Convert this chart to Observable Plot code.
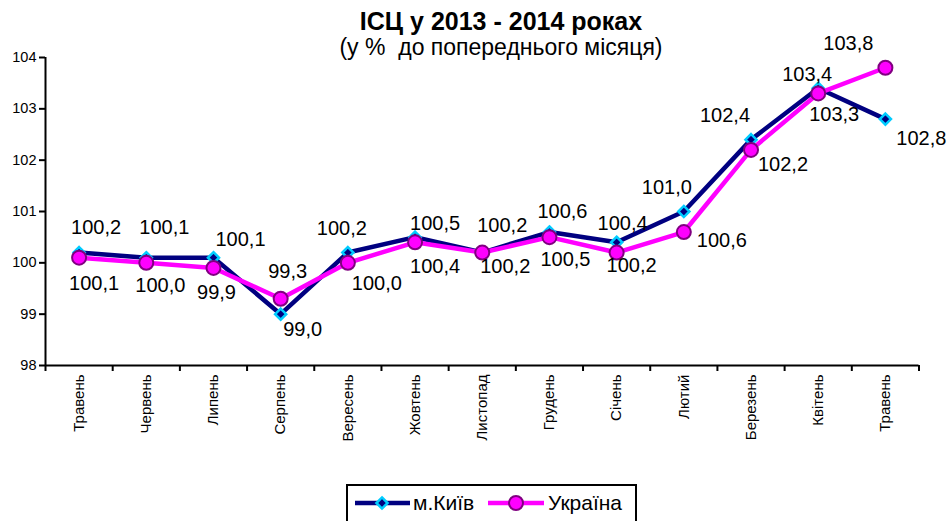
<!DOCTYPE html>
<html><head><meta charset="utf-8">
<script src="https://cdn.jsdelivr.net/npm/d3@7"></script>
<script src="https://cdn.jsdelivr.net/npm/@observablehq/plot@0.6"></script>
<style>
body{margin:0;background:#fff;font-family:"Liberation Sans",Arial,sans-serif;}
#wrap{position:relative;width:948px;height:521px;overflow:hidden;background:#fff;}
#chart{position:absolute;left:0;top:0;}
#title{position:absolute;left:0;width:1002px;top:9px;text-align:center;font-weight:bold;font-size:25px;color:#000;white-space:pre;line-height:25px;}
#subtitle{position:absolute;left:0;width:1002px;top:36px;text-align:center;font-size:23px;color:#000;white-space:pre;line-height:23px;}
#legend{position:absolute;left:346px;top:484px;width:287px;height:50px;border:2px solid #000;background:#fff;}
</style>
</head><body>
<div id="wrap">
  <div id="chart"></div>
  <div id="title"></div>
  <div id="subtitle"></div>
  <div id="legend"></div>
</div>
<script>
const titleText = "ІСЦ у 2013 - 2014 роках";
const subtitleText = "(у %  до попереднього місяця)";
const months = ["Травень","Червень","Липень","Серпень","Вересень","Жовтень","Листопад","Грудень","Січень","Лютий","Березень","Квітень","Травень"];
const kyiv = [100.2,100.1,100.1,99.0,100.2,100.5,100.2,100.6,100.4,101.0,102.4,103.4,102.8];
const ukraine = [100.1,100.0,99.9,99.3,100.0,100.4,100.2,100.5,100.2,100.6,102.2,103.3,103.8];
const yTicks = [98,99,100,101,102,103,104];
const seriesNames = ["м.Київ","Україна"];

// label placement (layout only)
const kyivLabelOffset = [[17,-25],[18,-30],[27,-18],[22,15],[-6,-24],[20,-14],[20,-27],[13,-20],[6,-19],[-17,-24],[-26,-24],[-11,-14],[36,19]];
const ukraineLabelOffset = [[15,26],[14,23],[3,25],[7,-27],[29,21],[20,24],[23,14],[16,22],[15,13],[38,9],[32,15],[16,21],[-37,-24]];

const NAVY = "#000080", CYAN = "#00ccff", MAG = "#ff00ff", PURP = "#800080";
const font = '"Liberation Sans", Arial, sans-serif';
const fmt = v => v.toFixed(1).replace(".", ",");

const kData = kyiv.map((v,i) => ({i, v}));
const uData = ukraine.map((v,i) => ({i, v}));

const labelMarks = [];
kData.forEach((d,i) => labelMarks.push(Plot.text([d], {x:"i", y:"v", text: d => fmt(d.v), dx: kyivLabelOffset[i][0], dy: kyivLabelOffset[i][1], fontSize: 20, fill: "#000"})));
uData.forEach((d,i) => labelMarks.push(Plot.text([d], {x:"i", y:"v", text: d => fmt(d.v), dx: ukraineLabelOffset[i][0], dy: ukraineLabelOffset[i][1], fontSize: 20, fill: "#000"})));

const chart = Plot.plot({
  width: 948, height: 521,
  marginTop: 57, marginBottom: 156, marginLeft: 45, marginRight: 29.5,
  x: {type: "linear", domain: [-0.5, 12.5]},
  y: {domain: [98, 104]},
  style: {fontFamily: font, fontSize: "14.5px", background: "transparent", color: "#000"},
  marks: [
    Plot.axisX({ticks: d3.range(-0.5, 13, 1), tickSize: 6, tickFormat: () => "", strokeWidth: 2, label: null}),
    Plot.axisX({ticks: d3.range(0, 13), tickSize: 0, tickPadding: 9, tickRotate: -90, tickFormat: i => months[i], fontSize: 15, label: null}),
    Plot.axisY({ticks: yTicks, tickSize: 6, tickPadding: 3, strokeWidth: 2, fontSize: 14.5, tickFormat: d => String(d), label: null}),
    Plot.ruleX([-0.5], {stroke: "#000", strokeWidth: 2}),
    Plot.ruleY([98], {stroke: "#000", strokeWidth: 2}),
    Plot.line(kData, {x: "i", y: "v", stroke: NAVY, strokeWidth: 4.5}),
    Plot.dot(kData, {x: "i", y: "v", symbol: "diamond2", r: 5, fill: NAVY, stroke: CYAN, strokeWidth: 2.5}),
    Plot.line(uData, {x: "i", y: "v", stroke: MAG, strokeWidth: 4.5}),
    Plot.dot(uData, {x: "i", y: "v", symbol: "circle", r: 7, fill: MAG, stroke: PURP, strokeWidth: 2}),
    ...labelMarks
  ]
});
document.getElementById("chart").appendChild(chart);
document.getElementById("title").textContent = titleText;
document.getElementById("subtitle").textContent = subtitleText;

// legend
const lg = d3.select("#legend").append("svg").attr("width", 287).attr("height", 40).style("position","absolute").style("left","0").style("top","0");
const sym2 = d3.symbol().type(d3.symbolDiamond2).size(Math.PI*25);
lg.append("line").attr("x1", 7).attr("x2", 62).attr("y1", 17).attr("y2", 17).attr("stroke", NAVY).attr("stroke-width", 4.5);
lg.append("path").attr("d", sym2()).attr("transform", "translate(34,17)").attr("fill", NAVY).attr("stroke", CYAN).attr("stroke-width", 2.5);
lg.append("text").attr("x", 65).attr("y", 24).attr("font-size", 21).attr("font-family", font).text(seriesNames[0]);
lg.append("line").attr("x1", 140).attr("x2", 196).attr("y1", 17).attr("y2", 17).attr("stroke", MAG).attr("stroke-width", 4.5);
lg.append("circle").attr("cx", 168).attr("cy", 17).attr("r", 7).attr("fill", MAG).attr("stroke", PURP).attr("stroke-width", 2);
lg.append("text").attr("x", 200).attr("y", 24).attr("font-size", 21).attr("font-family", font).text(seriesNames[1]);
</script>
</body></html>
